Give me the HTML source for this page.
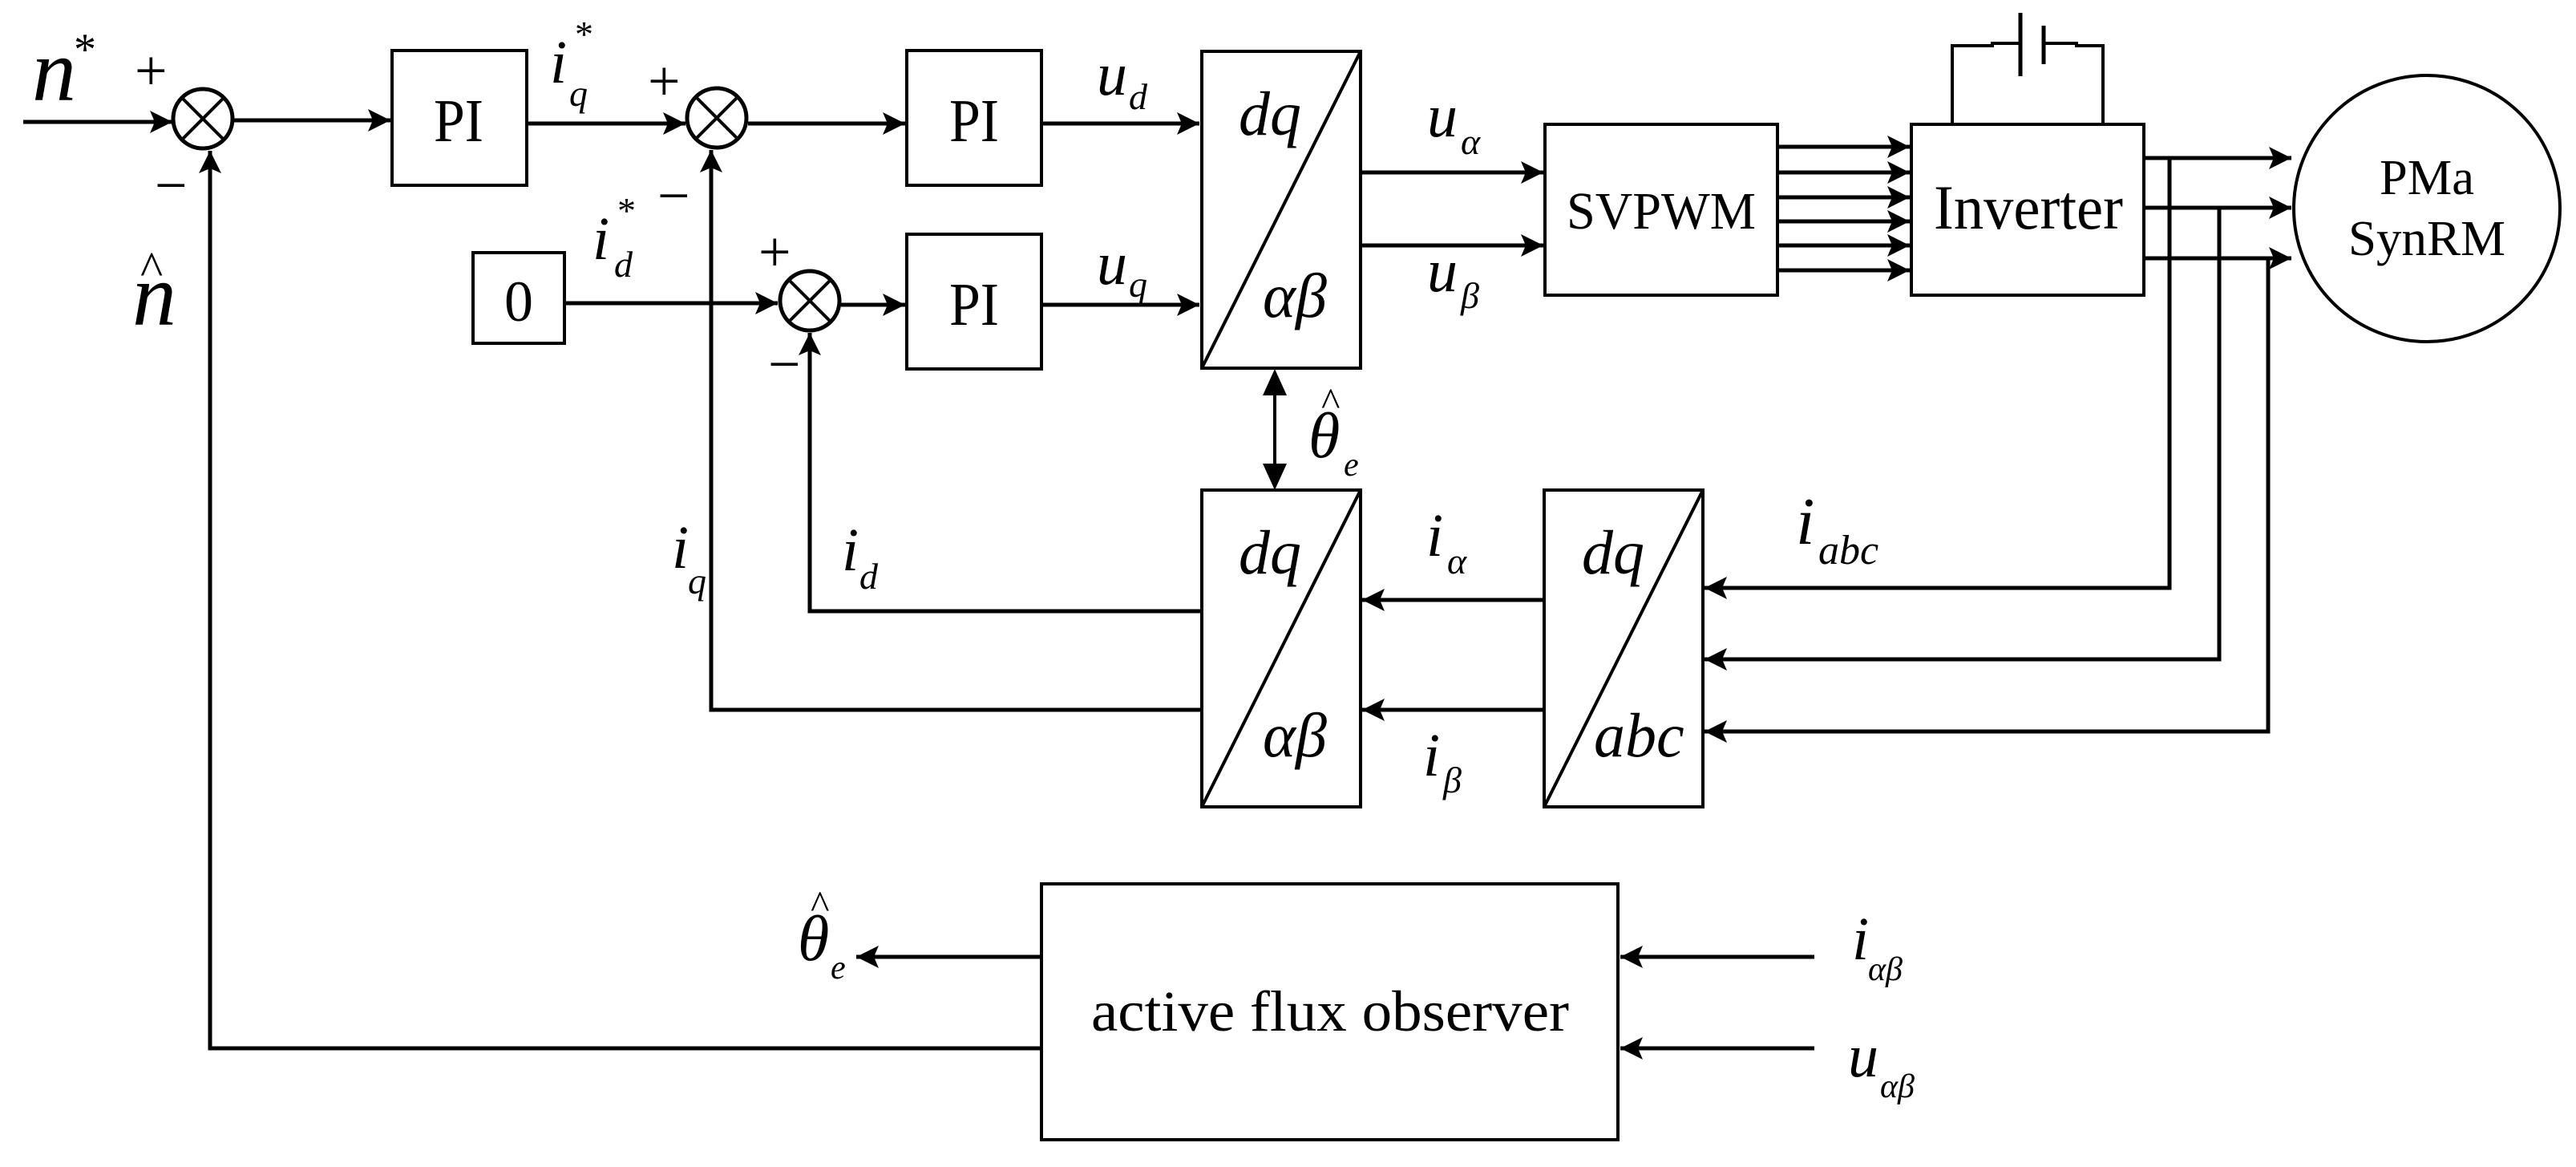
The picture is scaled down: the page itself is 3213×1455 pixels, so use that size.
<!DOCTYPE html>
<html><head><meta charset="utf-8"><style>
html,body{margin:0;padding:0;background:#fff;}
svg{display:block;}
text{font-family:"Liberation Serif","Times New Roman",serif;fill:#000;}
.it{font-style:italic;}
</style></head><body>
<svg width="3213" height="1455" viewBox="0 0 3213 1455" xmlns="http://www.w3.org/2000/svg">
<defs>
<marker id="a" markerUnits="userSpaceOnUse" markerWidth="30" markerHeight="30" refX="28" refY="14" orient="auto">
<path d="M0,0 L28,14 L0,28 L6,14 Z" fill="#000"/>
</marker>
</defs>
<g fill="none" stroke="#000" stroke-width="5">
<line x1="29" y1="152" x2="215" y2="152" marker-end="url(#a)"/>
<line x1="292" y1="150" x2="487" y2="150" marker-end="url(#a)"/>
<line x1="658" y1="154" x2="855" y2="154" marker-end="url(#a)"/>
<line x1="933" y1="154" x2="1129" y2="154" marker-end="url(#a)"/>
<line x1="1299" y1="154" x2="1496" y2="154" marker-end="url(#a)"/>
<line x1="704" y1="378" x2="970" y2="378" marker-end="url(#a)"/>
<line x1="1049" y1="380" x2="1129" y2="380" marker-end="url(#a)"/>
<line x1="1299" y1="380" x2="1496" y2="380" marker-end="url(#a)"/>
<line x1="1697" y1="215" x2="1925" y2="215" marker-end="url(#a)"/>
<line x1="1697" y1="306" x2="1925" y2="306" marker-end="url(#a)"/>
<line x1="2217" y1="183" x2="2382" y2="183" marker-end="url(#a)"/>
<line x1="2217" y1="215" x2="2382" y2="215" marker-end="url(#a)"/>
<line x1="2217" y1="246" x2="2382" y2="246" marker-end="url(#a)"/>
<line x1="2217" y1="276" x2="2382" y2="276" marker-end="url(#a)"/>
<line x1="2217" y1="306" x2="2382" y2="306" marker-end="url(#a)"/>
<line x1="2217" y1="337" x2="2382" y2="337" marker-end="url(#a)"/>
<line x1="2674" y1="197" x2="2858" y2="197" marker-end="url(#a)"/>
<line x1="2674" y1="259" x2="2858" y2="259" marker-end="url(#a)"/>
<line x1="2674" y1="322" x2="2858" y2="322" marker-end="url(#a)"/>
<polyline points="2706,197 2706,733 2126,733" marker-end="url(#a)"/>
<polyline points="2768,259 2768,822 2126,822" marker-end="url(#a)"/>
<polyline points="2829,322 2829,912 2126,912" marker-end="url(#a)"/>
<line x1="1926" y1="748" x2="1699" y2="748" marker-end="url(#a)"/>
<line x1="1926" y1="885" x2="1699" y2="885" marker-end="url(#a)"/>
<polyline points="1499,762 1010,762 1010,415" marker-end="url(#a)"/>
<polyline points="1499,885 887,885 887,187" marker-end="url(#a)"/>
<line x1="1299" y1="1193" x2="1068" y2="1193" marker-end="url(#a)"/>
<line x1="2263" y1="1193" x2="2021" y2="1193" marker-end="url(#a)"/>
<line x1="2263" y1="1307" x2="2021" y2="1307" marker-end="url(#a)"/>
<polyline points="1299,1307 262,1307 262,188" marker-end="url(#a)"/>
</g>
<g stroke="#000" stroke-width="4" fill="none">
<line x1="1590" y1="480" x2="1590" y2="590"/>
</g>
<path d="M1590,460 L1605,493 L1575,493 Z M1590,611 L1605,578 L1575,578 Z" fill="#000"/>
<g fill="none" stroke="#000" stroke-width="4">
<rect x="489" y="63" width="168" height="168"/>
<rect x="1131" y="63" width="168" height="168"/>
<rect x="1131" y="292" width="168" height="168"/>
<rect x="590" y="315" width="114" height="113"/>
<rect x="1499" y="64" width="198" height="395"/>
<line x1="1499" y1="459" x2="1697" y2="64"/>
<rect x="1499" y="611" width="198" height="395"/>
<line x1="1499" y1="1006" x2="1697" y2="611"/>
<rect x="1926" y="611" width="198" height="395"/>
<line x1="1926" y1="1006" x2="2124" y2="611"/>
<rect x="1927" y="155" width="290" height="213"/>
<rect x="2384" y="155" width="290" height="213"/>
<rect x="1299" y="1102" width="719" height="319"/>
<circle cx="3027" cy="260" r="166"/>
<polyline points="2435,155 2435,57 2485,57 2485,54 2520,54"/>
<polyline points="2549,54 2590,54 2590,57 2623,57 2623,155"/>
<line x1="2520" y1="16" x2="2520" y2="95" stroke-width="5"/>
<line x1="2549" y1="32" x2="2549" y2="80" stroke-width="5"/>
<circle cx="253" cy="148" r="37" stroke-width="5"/>
<line x1="227" y1="122" x2="279" y2="174"/><line x1="279" y1="122" x2="227" y2="174"/>
<circle cx="894" cy="147" r="37" stroke-width="5"/>
<line x1="868" y1="121" x2="920" y2="173"/><line x1="920" y1="121" x2="868" y2="173"/>
<circle cx="1010" cy="375" r="37" stroke-width="5"/>
<line x1="984" y1="349" x2="1036" y2="401"/><line x1="1036" y1="349" x2="984" y2="401"/>
</g>
<text x="572" y="176" font-size="76" text-anchor="middle" textLength="62" lengthAdjust="spacingAndGlyphs">PI</text>
<text x="1215" y="176" font-size="76" text-anchor="middle" textLength="62" lengthAdjust="spacingAndGlyphs">PI</text>
<text x="1215" y="405" font-size="76" text-anchor="middle" textLength="62" lengthAdjust="spacingAndGlyphs">PI</text>
<text x="647" y="400" font-size="72" text-anchor="middle">0</text>
<text x="2072" y="285" font-size="66" text-anchor="middle" textLength="236" lengthAdjust="spacingAndGlyphs">SVPWM</text>
<text x="2530" y="285" font-size="78" text-anchor="middle" textLength="236" lengthAdjust="spacingAndGlyphs">Inverter</text>
<text x="3027" y="242" font-size="62" text-anchor="middle" textLength="118" lengthAdjust="spacingAndGlyphs">PMa</text>
<text x="3027" y="318" font-size="62" text-anchor="middle" textLength="196" lengthAdjust="spacingAndGlyphs">SynRM</text>
<text x="1361" y="1285" font-size="72" textLength="596" lengthAdjust="spacingAndGlyphs">active flux observer</text>
<g font-size="72">
<text x="168" y="112">+</text><text x="193" y="255">−</text>
<text x="808" y="125">+</text><text x="820" y="268">−</text>
<text x="946" y="338">+</text><text x="958" y="478">−</text>
</g>
<g class="it">
<text x="40" y="125" font-size="110">n</text>
<text x="92" y="80" font-size="56" font-style="normal">*</text>
<text x="165" y="405" font-size="110">n</text>
<text x="175" y="355" font-size="60" font-style="normal">^</text>
<text x="686" y="103" font-size="76">i</text><text x="710" y="132" font-size="46">q</text><text x="717" y="58" font-size="46" font-style="normal">*</text>
<text x="739" y="323" font-size="76">i</text><text x="766" y="345" font-size="46">d</text><text x="770" y="278" font-size="46" font-style="normal">*</text>
<text x="1368" y="118" font-size="76">u</text><text x="1408" y="136" font-size="46">d</text>
<text x="1368" y="354" font-size="76">u</text><text x="1408" y="370" font-size="46">q</text>
<text x="1545" y="168" font-size="78">dq</text><text x="1575" y="395" font-size="78">αβ</text>
<text x="1545" y="715" font-size="78">dq</text><text x="1575" y="943" font-size="78">αβ</text>
<text x="1973" y="715" font-size="78">dq</text><text x="1988" y="943" font-size="78">abc</text>
<text x="1780" y="170" font-size="76">u</text><text x="1822" y="192" font-size="46">α</text>
<text x="1780" y="363" font-size="76">u</text><text x="1822" y="384" font-size="46">β</text>
<text x="1632" y="570" font-size="80">θ</text><text x="1648" y="518" font-size="50" font-style="normal">^</text><text x="1676" y="593" font-size="42">e</text>
<text x="1779" y="693" font-size="76">i</text><text x="1805" y="715" font-size="46">α</text>
<text x="1775" y="967" font-size="76">i</text><text x="1800" y="988" font-size="46">β</text>
<text x="2240" y="678" font-size="84">i</text><text x="2268" y="703" font-size="52">abc</text>
<text x="838" y="708" font-size="76">i</text><text x="858" y="740" font-size="46">q</text>
<text x="1050" y="711" font-size="76">i</text><text x="1072" y="734" font-size="46">d</text>
<text x="995" y="1197" font-size="80">θ</text><text x="1011" y="1145" font-size="50" font-style="normal">^</text><text x="1036" y="1220" font-size="42">e</text>
<text x="2310" y="1196" font-size="76">i</text><text x="2330" y="1222" font-size="42">αβ</text>
<text x="2305" y="1342" font-size="76">u</text><text x="2345" y="1368" font-size="42">αβ</text>
</g>
</svg>
</body></html>
